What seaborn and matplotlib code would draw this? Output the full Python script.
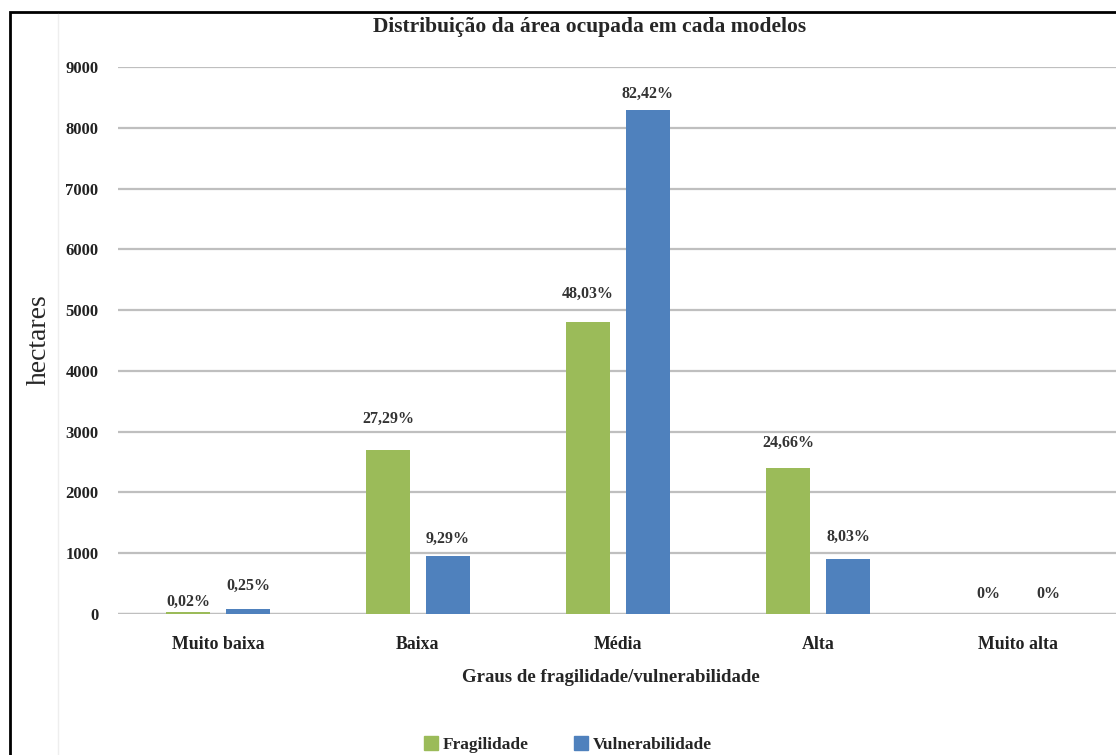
import numpy as np
import pandas as pd
import seaborn as sns
import matplotlib.pyplot as plt
from matplotlib.patches import Rectangle
from matplotlib.lines import Line2D

categorias = ["Muito baixa", "Baixa", "Média", "Alta", "Muito alta"]
fragilidade = [40, 2700, 4800, 2400, 0]
vulnerabilidade = [90, 950, 8300, 900, 0]
pct_frag = ["0,02%", "27,29%", "48,03%", "24,66%", "0%"]
pct_vuln = ["0,25%", "9,29%", "82,42%", "8,03%", "0%"]
series = ["Fragilidade", "Vulnerabilidade"]
cores = ["#9BBB59", "#4F81BD"]

# label offsets above bar tops (pixels), as placed in the original
off_frag = [10, 31, 28, 25, 20]
off_vuln = [23, 17, 16, 22, 20]

df = pd.DataFrame({
    "grau": categorias * 2,
    "hectares": fragilidade + vulnerabilidade,
    "serie": [series[0]] * 5 + [series[1]] * 5,
})

sns.set_theme(style="white")
plt.rcParams["font.family"] = ["Liberation Serif", "DejaVu Serif"]

fig = plt.figure(figsize=(11.16, 7.55), dpi=100)
ax = fig.add_axes([118 / 1116, 141 / 755, 1000 / 1116, 547 / 755])

sns.barplot(data=df, x="grau", y="hectares", hue="serie", order=categorias,
            hue_order=series, palette=cores, width=0.6, saturation=1,
            linewidth=0, legend=False, ax=ax)

# narrow the bars so there is a gap inside each group
bw = 0.22
for p in ax.patches:
    c = p.get_x() + p.get_width() / 2
    p.set_x(c - bw / 2)
    p.set_width(bw)
    p.set_edgecolor("none")

for cont, labels, offs in zip(ax.containers, [pct_frag, pct_vuln], [off_frag, off_vuln]):
    for p, lab, o in zip(cont, labels, offs):
        ax.annotate(lab, (p.get_x() + p.get_width() / 2, p.get_height()),
                    xytext=(0, o * 0.72), textcoords="offset points",
                    ha="center", va="center", fontsize=11.5, fontweight="bold",
                    color="#333333")

ax.set_ylim(0, 9000)
ax.set_xlim(-0.5, 4.5)
ax.set_yticks(range(0, 9001, 1000))
ax.yaxis.grid(True, color="#BFBFBF", linewidth=1.6)
ax.set_axisbelow(True)
for s in ax.spines.values():
    s.set_visible(False)
ax.axhline(0, color="#BFBFBF", linewidth=1.6, zorder=0.5)
ax.tick_params(axis="y", length=0, pad=14, labelsize=12)
ax.tick_params(axis="x", length=0, pad=16, labelsize=12.8)
for t in ax.get_xticklabels() + ax.get_yticklabels():
    t.set_fontweight("bold")
    t.set_color("#222222")
ax.set_xlabel("")
ax.set_ylabel("")

fig.text(0.528, 0.964, "Distribuição da área ocupada em cada modelos",
         ha="center", va="center", fontsize=15.5, fontweight="bold")
fig.text(0.547, 0.103, "Graus de fragilidade/vulnerabilidade",
         ha="center", va="center", fontsize=13.5, fontweight="bold")
fig.text(0.035, 0.55, "hectares", rotation=90, ha="center", va="center",
         fontsize=20)

handles = [Line2D([0], [0], marker="s", linestyle="", markersize=10,
                  markerfacecolor=c, markeredgecolor=c) for c in cores]
leg = fig.legend(handles, series, loc="center", bbox_to_anchor=(0.508, 0.013),
                 ncol=2, frameon=False, handletextpad=0.2, columnspacing=2.5,
                 handlelength=1.0, prop={"weight": "bold", "size": 12.5})

# outer frame of the original figure
fig.patches.append(Rectangle((10 / 1116, -0.5), 2, 0.5 + (755 - 12) / 755,
                             transform=fig.transFigure, fill=False,
                             edgecolor="black", linewidth=2))
fig.lines.append(Line2D([58 / 1116, 58 / 1116], [0, (755 - 14) / 755],
                        transform=fig.transFigure, color="#EEEEEE", linewidth=1))

fig.savefig("out.png", dpi=100)
